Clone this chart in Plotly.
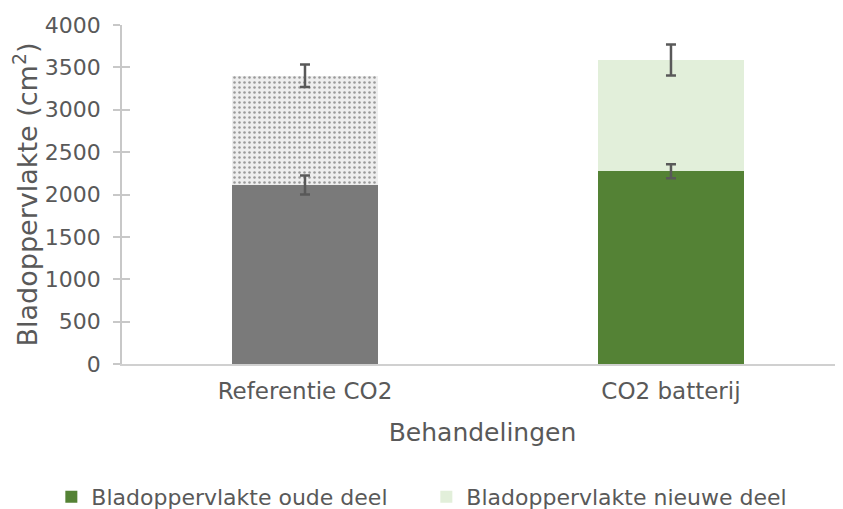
import plotly.graph_objects as go

categories = ["Referentie CO2", "CO2 batterij"]
oude_deel = [2112, 2274]
oude_err = [112, 83]
nieuwe_deel = [1290, 1313]
nieuwe_err = [133, 183]
y_ticks = [0, 500, 1000, 1500, 2000, 2500, 3000, 3500, 4000]

oude_colors = ["#7A7A7A", "#548235"]
nieuwe_colors = ["#EEEEEE", "#E2EFDA"]
nieuwe_pattern = [".", ""]

FONT = "DejaVu Sans"
TXT = "#595959"

# order reversed so the green (first) point styles the legend swatch
order = [1, 0]
def pick(a):
    return [a[i] for i in order]

fig = go.Figure()
fig.add_trace(go.Bar(
    x=pick(categories), y=pick(oude_deel), name="Bladoppervlakte oude deel",
    width=0.40,
    marker=dict(color=pick(oude_colors), line=dict(width=0)),
))
fig.add_trace(go.Bar(
    x=pick(categories), y=pick(nieuwe_deel), name="Bladoppervlakte nieuwe deel",
    width=0.40,
    marker=dict(color=pick(nieuwe_colors), line=dict(width=0),
                pattern=dict(shape=pick(nieuwe_pattern), fgcolor="#DDDDDD", fgopacity=0.5,
                             size=5, solidity=0.2)),
))
# error bars drawn on top of all bars, at the stacked segment tops
tops_oude = list(oude_deel)
tops_nieuwe = [a + b for a, b in zip(oude_deel, nieuwe_deel)]
for tops, errs in ((tops_oude, oude_err), (tops_nieuwe, nieuwe_err)):
    fig.add_trace(go.Scatter(
        x=categories, y=tops, mode="markers", marker=dict(size=1, opacity=0),
        showlegend=False, hoverinfo="skip",
        error_y=dict(type="data", array=errs, color="#595959", thickness=2.5, width=5),
    ))
# helper trace for the inner half of the crossing y ticks
fig.add_trace(go.Scatter(x=[categories[0]], y=[None], yaxis="y2", showlegend=False,
                         hoverinfo="skip", mode="markers"))

# page body has an 8px margin, so the figure is sized/offset to compensate
fig.update_layout(
    width=835, height=501,
    barmode="stack",
    paper_bgcolor="white", plot_bgcolor="white",
    margin=dict(l=114, r=0, t=17, b=145, autoexpand=False),
    font=dict(family=FONT, color=TXT, size=20),
    xaxis=dict(
        type="category", categoryorder="array", categoryarray=categories,
        range=[-0.5, 1.47], automargin=False,
        showline=True, linecolor="#D0D0D0", linewidth=1.5,
        ticks="", ticklabelstandoff=6,
        tickfont=dict(size=23, color=TXT, family=FONT),
        title=dict(text="Behandelingen", font=dict(size=25, color=TXT, family=FONT), standoff=20),
        showgrid=False, zeroline=False,
    ),
    yaxis=dict(
        range=[0, 4000], tickvals=y_ticks, automargin=False,
        showline=True, linecolor="#C8C8C8", linewidth=1.5,
        ticks="outside", ticklen=7, tickcolor="#C8C8C8", tickwidth=1.5,
        ticklabelstandoff=8,
        tickfont=dict(size=22, color=TXT, family=FONT),
        title=dict(text="Bladoppervlakte (cm<sup>2</sup>)", font=dict(size=27, color=TXT, family=FONT), standoff=4),
        showgrid=False, zeroline=False,
    ),
    yaxis2=dict(
        overlaying="y", side="left", range=[0, 4000], tickvals=y_ticks, automargin=False,
        ticks="inside", ticklen=8, tickcolor="#C8C8C8", tickwidth=1.5,
        showticklabels=False, showline=False, showgrid=False, zeroline=False,
    ),
    legend=dict(
        orientation="h", x=-0.098, xanchor="left",
        y=-0.392, yanchor="middle",
        font=dict(size=22, color=TXT, family=FONT),
        entrywidth=330, traceorder="normal",
    ),
)

fig.write_html("out.html")
